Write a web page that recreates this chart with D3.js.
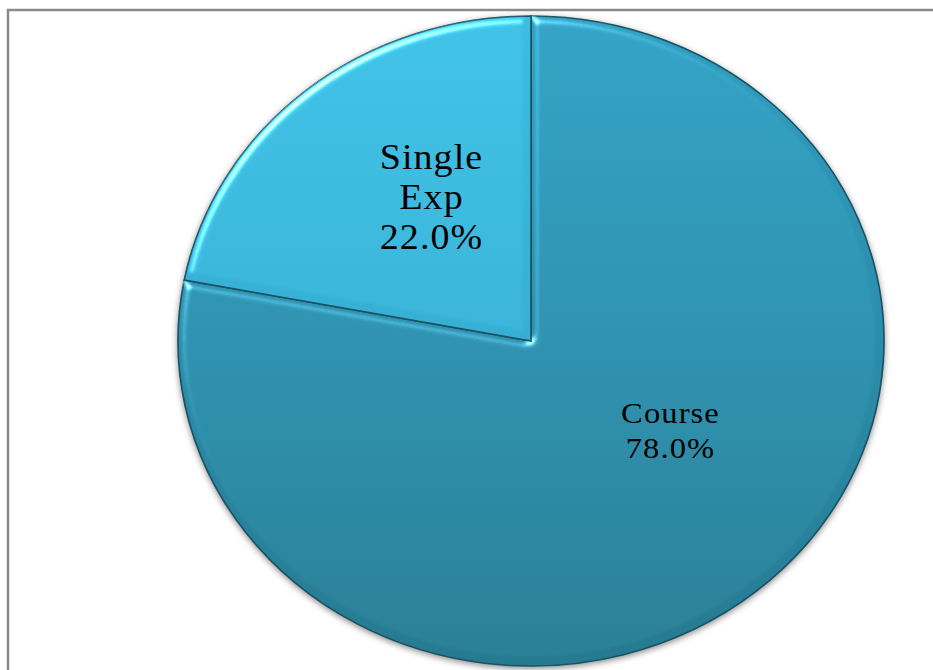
<!DOCTYPE html>
<html>
<head>
<meta charset="utf-8">
<script src="https://cdn.jsdelivr.net/npm/d3@7"></script>
<style>
  body { margin: 0; background: #fff; }
  svg { display: block; }
</style>
</head>
<body>
<svg class="pie" width="933" height="670"></svg>
<script>
// data
var categories = ['Course', 'Single Exp'];
var values = [78.0, 22.0];
var labelLines = [['Course', '78.0%'], ['Single', 'Exp', '22.0%']];

var svg = d3.select('svg.pie');
var width = +svg.attr('width');
var height = +svg.attr('height');

// chart frame (runs off the right / bottom of the picture)
svg.append('rect')
    .attr('x', 8).attr('y', 10)
    .attr('width', 940).attr('height', 680)
    .attr('fill', 'none')
    .attr('stroke', '#8a8a8a')
    .attr('stroke-width', 2.5);

var cx = 531, cy = 341;
var ry = 325, rx = 353;
var stretch = rx / ry;

var defs = svg.append('defs');

var fills = [
    ['#2f9ec0', '#2b8dab', '#267a90'],
    ['#3cbde2', '#36afd3', '#2f9ebe']
];
fills.forEach(function (f, i) {
    var g = defs.append('linearGradient')
        .attr('id', 'grad' + i)
        .attr('gradientUnits', 'userSpaceOnUse')
        .attr('x1', 0).attr('y1', -ry).attr('x2', 0).attr('y2', ry);
    g.append('stop').attr('offset', '0%').attr('stop-color', f[0]);
    g.append('stop').attr('offset', '50%').attr('stop-color', f[1]);
    g.append('stop').attr('offset', '100%').attr('stop-color', f[2]);
});

// soft bevel on the edges only
var bevel = defs.append('filter').attr('id', 'bevel')
    .attr('color-interpolation-filters', 'sRGB')
    .attr('x', '-5%').attr('y', '-5%').attr('width', '110%').attr('height', '110%');
bevel.append('feGaussianBlur').attr('in', 'SourceAlpha').attr('stdDeviation', 4).attr('result', 'blur');
var spec = bevel.append('feSpecularLighting')
    .attr('in', 'blur').attr('surfaceScale', 6)
    .attr('specularConstant', 1.1).attr('specularExponent', 25)
    .attr('lighting-color', '#c8f2ff').attr('result', 'spec');
spec.append('feDistantLight').attr('azimuth', 235).attr('elevation', 30);
bevel.append('feComposite').attr('in', 'spec').attr('in2', 'SourceAlpha').attr('operator', 'in').attr('result', 'specOut');
bevel.append('feComposite').attr('in', 'SourceGraphic').attr('in2', 'specOut')
    .attr('operator', 'arithmetic').attr('k1', 0).attr('k2', 1).attr('k3', 0.8).attr('k4', 0);

var shadow = defs.append('filter').attr('id', 'shadow')
    .attr('color-interpolation-filters', 'sRGB')
    .attr('x', '-10%').attr('y', '-10%').attr('width', '120%').attr('height', '120%');
shadow.append('feDropShadow').attr('dx', 0).attr('dy', 2).attr('stdDeviation', 3)
    .attr('flood-color', '#000').attr('flood-opacity', 0.45);

var pie = d3.pie().sort(null).value(function (d) { return d; });
var arcs = pie(values);

var arc = d3.arc().innerRadius(0).outerRadius(ry);

var g = svg.append('g')
    .attr('transform', 'translate(' + cx + ',' + cy + ') scale(' + stretch + ',1)')
    .attr('filter', 'url(#shadow)');

g.selectAll('path.slice')
    .data(arcs)
    .enter()
    .append('path')
    .attr('class', 'slice')
    .attr('d', arc)
    .attr('fill', function (d, i) { return 'url(#grad' + i + ')'; })
    .attr('stroke', '#1a5263')
    .attr('stroke-width', 1.5)
    .attr('filter', 'url(#bevel)');

// labels
var labelArc = d3.arc().innerRadius(0).outerRadius(ry);
var nudge = [[27, -36], [13, -19]];
var fontSize = [30, 35];
var lineGap = [35, 40];

var labels = svg.selectAll('g.label')
    .data(arcs)
    .enter()
    .append('g')
    .attr('class', 'label')
    .attr('transform', function (d, i) {
        var c = labelArc.centroid(d);
        var x = cx + c[0] * stretch + nudge[i][0];
        var y = cy + c[1] + nudge[i][1];
        return 'translate(' + x + ',' + y + ') scale(' + stretch + ',1)';
    });

labels.each(function (d, i) {
    var lines = labelLines[i];
    var n = lines.length;
    d3.select(this).selectAll('text')
        .data(lines)
        .enter()
        .append('text')
        .attr('font-family', '"Liberation Serif", "Times New Roman", Times, serif')
        .attr('fill', '#000')
        .attr('text-anchor', 'middle')
        .attr('dominant-baseline', 'central')
        .style('font-size', fontSize[i] + 'px')
        .style('letter-spacing', '1px')
        .attr('y', function (t, j) { return (j - (n - 1) / 2) * lineGap[i]; })
        .text(function (t) { return t; });
});
</script>
</body>
</html>
